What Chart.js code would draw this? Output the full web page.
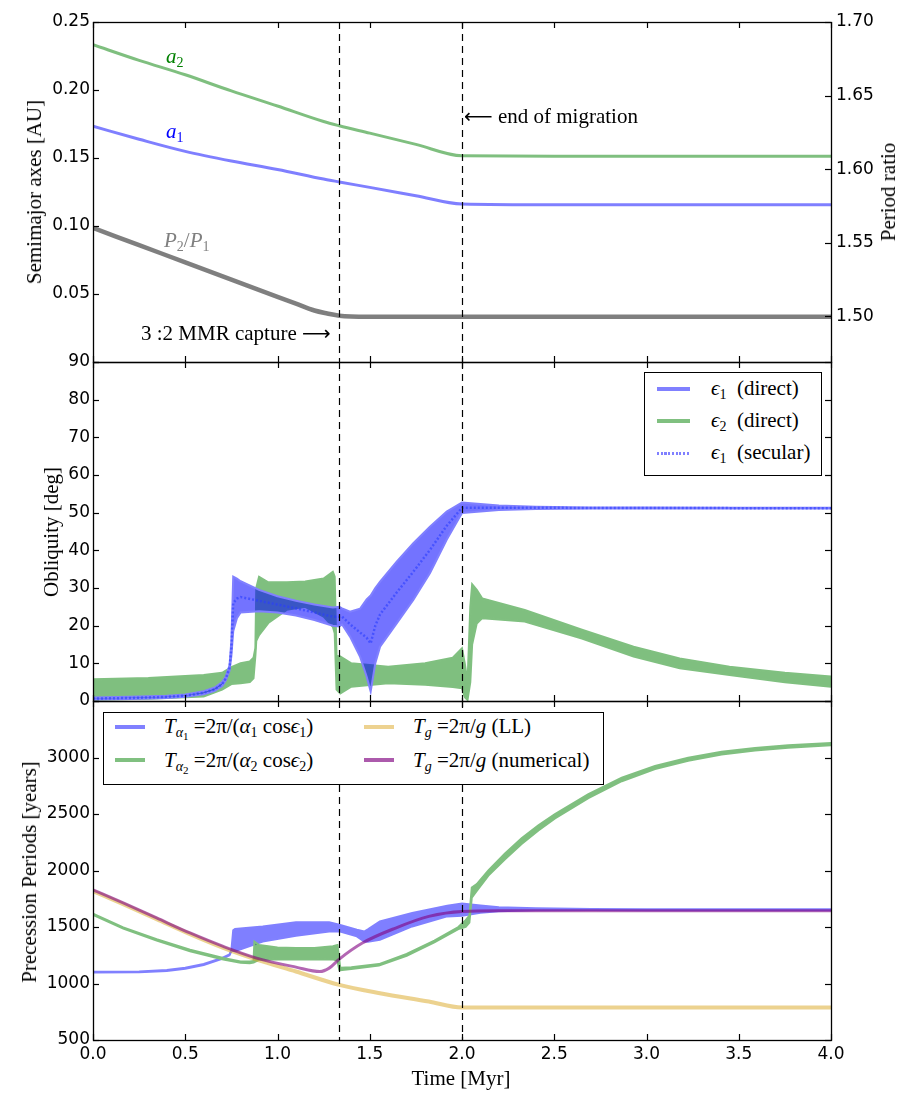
<!DOCTYPE html>
<html><head><meta charset="utf-8">
<script src="https://cdn.jsdelivr.net/npm/chart.js@4.4.1/dist/chart.umd.min.js"></script>
<style>
body{margin:0;background:#fff;overflow:hidden;}
#wrap{position:relative;width:920px;height:1104px;overflow:hidden;background:#fff;}
canvas{position:absolute;left:0;top:0;}
.t{position:absolute;font-family:'Liberation Serif','DejaVu Serif',serif;font-size:21px;line-height:24px;white-space:nowrap;color:#000;}
.rot{transform:translate(-50%,-50%) rotate(-90deg);}
.lg{position:absolute;border:1.3px solid #000;background:#fff;box-sizing:border-box;}
.ln{position:absolute;height:4px;}
sub{font-size:14px;vertical-align:-4px;line-height:0;}
sub sub{font-size:11px;vertical-align:-3px;}
.ar{font-family:'DejaVu Sans',sans-serif;font-size:20px;}
</style></head>
<body><div id="wrap">
<canvas id="c1" width="920" height="1104"></canvas>
<canvas id="c2" width="920" height="1104"></canvas>
<canvas id="c3" width="920" height="1104"></canvas>

<div class="t rot" style="left:34px;top:192px;">Semimajor axes [AU]</div>
<div class="t rot" style="left:888px;top:192px;">Period ratio</div>
<div class="t rot" style="left:51px;top:532px;">Obliquity [deg]</div>
<div class="t rot" style="left:29px;top:872px;">Precession Periods [years]</div>
<div class="t" style="left:461px;top:1066px;transform:translateX(-50%);">Time [Myr]</div>

<div class="t" style="left:166px;top:44px;color:#008000;"><i>a</i><sub>2</sub></div>
<div class="t" style="left:166px;top:119px;color:#0000ff;"><i>a</i><sub>1</sub></div>
<div class="t" style="left:164px;top:228px;color:#808080;"><i>P</i><sub>2</sub>/<i>P</i><sub>1</sub></div>
<div class="t" style="left:141px;top:321px;">3 :2 MMR capture <span class="ar">⟶</span></div>
<div class="t" style="left:464px;top:104px;"><span class="ar">⟵</span> end of migration</div>

<div class="lg" style="left:644px;top:372px;width:178px;height:104px;"></div>
<div class="ln" style="left:657px;top:387px;width:33px;background:#8080ff;"></div>
<div class="ln" style="left:657px;top:419px;width:33px;background:#80c080;"></div>
<div class="ln" style="left:657px;top:452px;width:33px;height:3px;background:repeating-linear-gradient(90deg,#8080ff 0 2.2px,transparent 2.2px 3.7px);"></div>
<div class="t" style="left:711px;top:376px;"><i>ϵ</i><sub>1</sub> &nbsp;(direct)</div>
<div class="t" style="left:711px;top:408px;"><i>ϵ</i><sub>2</sub> &nbsp;(direct)</div>
<div class="t" style="left:711px;top:440px;"><i>ϵ</i><sub>1</sub> &nbsp;(secular)</div>

<div class="lg" style="left:103px;top:712px;width:501px;height:73px;"></div>
<div class="ln" style="left:115px;top:725px;width:30px;background:#8080ff;"></div>
<div class="ln" style="left:115px;top:758px;width:30px;background:#80c080;"></div>
<div class="ln" style="left:364px;top:725px;width:30px;background:#edd290;"></div>
<div class="ln" style="left:364px;top:758px;width:30px;background:#ac5aac;"></div>
<div class="t" style="left:164px;top:714px;"><i>T</i><sub><i>α</i><sub>1</sub></sub> =2π/(<i>α</i><sub>1</sub> cos<i>ϵ</i><sub>1</sub>)</div>
<div class="t" style="left:164px;top:748px;"><i>T</i><sub><i>α</i><sub>2</sub></sub> =2π/(<i>α</i><sub>2</sub> cos<i>ϵ</i><sub>2</sub>)</div>
<div class="t" style="left:413px;top:714px;"><i>T<sub>g</sub></i> =2π/<i>g</i> (LL)</div>
<div class="t" style="left:413px;top:748px;"><i>T<sub>g</sub></i> =2π/<i>g</i> (numerical)</div>
</div>
<script>
// ---------- DATA ----------
const xTicks = [0, 0.5, 1.0, 1.5, 2.0, 2.5, 3.0, 3.5, 4.0];
const markerTimes = [1.335, 2.0];

// top panel
const axesTicks = [0, 0.05, 0.10, 0.15, 0.20, 0.25];
const ratioTicks = [1.50, 1.55, 1.60, 1.65, 1.70];
const timeTop = [0, 0.25, 0.5, 0.75, 1.0, 1.25, 1.335, 1.5, 1.75, 2.0, 2.5, 3.0, 3.5, 4.0];
const a1Vals = [0.1733, 0.1638, 0.1549, 0.1478, 0.1416, 0.1345, 0.1324, 0.1284, 0.1223, 0.1162, 0.1156, 0.1156, 0.1156, 0.1156];
const a2Vals = [0.2333, 0.2218, 0.2112, 0.1993, 0.1882, 0.1768, 0.1737, 0.1683, 0.1600, 0.1516, 0.1513, 0.1513, 0.1513, 0.1513];
const timeRatio = [0, 0.25, 0.5, 0.75, 1.0, 1.1, 1.2, 1.27, 1.335, 1.5, 2.0, 3.0, 4.0];
const ratioVals = [1.5601, 1.5484, 1.5367, 1.5250, 1.5133, 1.5087, 1.5040, 1.5020, 1.5005, 1.4998, 1.4997, 1.4997, 1.4997];

// middle panel
const oblTicks = [0, 10, 20, 30, 40, 50, 60, 70, 80, 90];
const timeEps1 = [0, 0.2, 0.4, 0.5, 0.6, 0.66, 0.70, 0.72, 0.74, 0.75, 0.76, 0.78, 0.80, 0.9, 1.0, 1.1, 1.2, 1.3, 1.335, 1.35, 1.393, 1.447, 1.483, 1.505, 1.53, 1.556, 1.646, 1.736, 1.826, 1.917, 2.0, 2.1, 2.2, 2.4, 2.7, 3.0, 3.5, 4.0];
const eps1Hi = [0.9, 1.1, 1.4, 1.7, 2.6, 3.6, 5.0, 6.5, 9.5, 16, 33, 32.5, 31.8, 29.5, 27.8, 26.6, 25.6, 24.8, 25.0, 24.6, 23.7, 24.5, 27, 28, 30, 31.7, 37, 41.9, 46.3, 50.3, 52.7, 52.3, 51.9, 51.6, 51.4, 51.4, 51.3, 51.3];
const eps1Lo = [0.4, 0.5, 0.8, 1.1, 1.8, 2.7, 4.0, 5.5, 8.0, 12, 18.5, 22, 23.5, 23.8, 23.5, 22.7, 21.5, 20.0, 19.8, 20.3, 17.1, 11.8, 6.5, 2.5, 10, 14.4, 20.6, 26.8, 33.9, 42.8, 49.9, 50.3, 50.7, 51.0, 51.1, 51.1, 51.1, 51.1];
const eps1Sec = [0.65, 0.8, 1.1, 1.4, 2.2, 3.1, 4.5, 6.0, 8.8, 14, 26, 27.2, 27.6, 26.6, 25.6, 24.6, 23.5, 22.4, 22.4, 22.4, 20.4, 18.2, 16.8, 15.3, 20, 23, 28.8, 34.3, 40.1, 46.5, 51.3, 51.3, 51.3, 51.3, 51.25, 51.25, 51.2, 51.2];
const timeEps2 = [0, 0.3, 0.6, 0.7, 0.75, 0.8, 0.85, 0.87, 0.88, 0.885, 0.9, 0.95, 1.05, 1.15, 1.25, 1.3, 1.31, 1.32, 1.34, 1.4, 1.6, 1.8, 1.95, 2.0, 2.015, 2.03, 2.045, 2.055, 2.08, 2.11, 2.34, 2.65, 2.93, 3.18, 3.45, 3.75, 4.0];
const eps2Hi = [5.8, 6.1, 6.9, 7.5, 9, 10, 10.5, 11.5, 14, 30, 33, 31.5, 31.5, 31.7, 32.5, 34.3, 33, 12, 11.8, 10, 9.1, 10, 11.5, 14, 10, 5, 25, 31, 29.5, 27.2, 24.2, 18.9, 14.4, 11.3, 9.1, 7.5, 6.5];
const eps2Lo = [0.3, 0.6, 1.2, 3.0, 4.5, 4.7, 5.0, 6.0, 12, 16, 17.5, 20.7, 24.2, 25, 22.4, 19.7, 18, 3, 2.0, 3.8, 4.7, 4.3, 3.7, 3.4, 1, 0.3, 5, 15, 20.6, 22, 21.1, 16.6, 11.8, 8.7, 6.9, 5, 3.8];

// bottom panel
const precTicks = [500, 1000, 1500, 2000, 2500, 3000, 3500];
const timeTa1 = [0, 0.25, 0.4, 0.5, 0.6, 0.7, 0.74, 0.75, 0.76, 0.77, 0.92, 1.1, 1.28, 1.335, 1.43, 1.47, 1.49, 1.555, 1.73, 1.92, 2.0, 2.1, 2.2, 2.4, 2.7, 3.0, 4.0];
const ta1Hi = [1105, 1107, 1119, 1139, 1172, 1226, 1258, 1294, 1470, 1482, 1505, 1541, 1541, 1520, 1476, 1460, 1480, 1550, 1624, 1689, 1707, 1690, 1675, 1665, 1660, 1658, 1658];
const ta1Lo = [1097, 1099, 1111, 1131, 1164, 1218, 1250, 1286, 1290, 1285, 1372, 1423, 1461, 1461, 1417, 1372, 1370, 1387, 1505, 1594, 1600, 1625, 1640, 1648, 1650, 1649, 1649];
const timeTa2 = [0, 0.164, 0.345, 0.526, 0.706, 0.8, 0.85, 0.87, 0.875, 0.9, 1.0, 1.1, 1.2, 1.3, 1.325, 1.335, 1.34, 1.4, 1.55, 1.7, 1.85, 1.98, 2.0, 2.02, 2.04, 2.053, 2.08, 2.143, 2.233, 2.323, 2.414, 2.504, 2.685, 2.866, 3.046, 3.226, 3.407, 3.588, 3.768, 4.0];
const ta2Hi = [1618, 1497, 1393, 1298, 1226, 1195, 1195, 1200, 1370, 1340, 1318, 1315, 1315, 1330, 1340, 1210, 1140, 1143, 1172, 1262, 1380, 1500, 1530, 1560, 1600, 1850, 1880, 2000, 2150, 2285, 2400, 2500, 2675, 2822, 2925, 2998, 3050, 3085, 3108, 3128];
const ta2Lo = [1606, 1485, 1381, 1286, 1212, 1183, 1180, 1185, 1190, 1210, 1212, 1212, 1212, 1215, 1200, 1120, 1118, 1128, 1158, 1246, 1364, 1482, 1490, 1500, 1540, 1760, 1820, 1955, 2100, 2235, 2355, 2460, 2640, 2790, 2897, 2972, 3026, 3061, 3086, 3108];
const timeTgLL = [0, 0.164, 0.345, 0.526, 0.706, 0.887, 1.1, 1.335, 1.555, 1.82, 2.0, 4.0];
const tgLL = [1818, 1703, 1570, 1437, 1316, 1212, 1106, 988, 914, 840, 787, 787];
const timeTgNum = [0, 0.164, 0.345, 0.526, 0.706, 0.887, 1.1, 1.23, 1.28, 1.335, 1.46, 1.64, 1.82, 2.0, 2.2, 4.0];
const tgNum = [1828, 1713, 1580, 1447, 1328, 1225, 1145, 1106, 1136, 1216, 1358, 1491, 1594, 1638, 1643, 1643];

// ---------- STYLE ----------
const BLUE_L = '#8080ff', BLUE_F = 'rgba(0,0,255,0.5)';
const GREEN_L = '#80c080', GREEN_F = 'rgba(0,128,0,0.5)';
const TICK_FONT = {family: "'DejaVu Sans', sans-serif", size: 17};

const pts = (xs, ys) => xs.map((x, i) => ({x: x, y: ys[i]}));
const lineDs = (xs, ys, color, w, order, extra) => Object.assign({
  data: pts(xs, ys), borderColor: color, borderWidth: w, pointRadius: 0,
  fill: false, tension: 0, order: order
}, extra || {});
const bandDs = (xs, lo, hi, lineC, fillC, w, order) => [
  {data: pts(xs, lo), borderColor: lineC, borderWidth: w, pointRadius: 0, fill: false, tension: 0, order: order},
  {data: pts(xs, hi), borderColor: lineC, borderWidth: w, pointRadius: 0, fill: '-1', backgroundColor: fillC, tension: 0, order: order}
];
const setTicks = arr => s => { s.ticks = arr.map(v => ({value: v})); };

const deco = {
  id: 'deco',
  afterDatasetsDraw(chart, args, o) {
    const {ctx, chartArea: a, scales} = chart;
    const L = 6;
    ctx.save();
    ctx.strokeStyle = '#000';
    ctx.lineWidth = 1.2;
    ctx.setLineDash([7, 5]);
    markerTimes.forEach(v => {
      const px = Math.round(scales.x.getPixelForValue(v)) + 0.5;
      ctx.beginPath(); ctx.moveTo(px, a.top); ctx.lineTo(px, a.bottom); ctx.stroke();
    });
    ctx.setLineDash([]);
    const seg = (x1, y1, x2, y2) => { ctx.beginPath(); ctx.moveTo(x1, y1); ctx.lineTo(x2, y2); ctx.stroke(); };
    scales.x.ticks.forEach(t => {
      const px = Math.round(scales.x.getPixelForValue(t.value)) + 0.5;
      seg(px, a.bottom, px, a.bottom - L);
      seg(px, a.top, px, a.top + L);
    });
    scales.y.ticks.forEach(t => {
      const py = Math.round(scales.y.getPixelForValue(t.value)) + 0.5;
      seg(a.left, py, a.left + L, py);
      if (o.mirror) seg(a.right, py, a.right - L, py);
    });
    if (scales.y2) scales.y2.ticks.forEach(t => {
      const py = Math.round(scales.y2.getPixelForValue(t.value)) + 0.5;
      seg(a.right, py, a.right - L, py);
    });
    ctx.lineWidth = 1.3;
    ctx.strokeRect(Math.round(a.left) + 0.5, Math.round(a.top) + 0.5, Math.round(a.width), Math.round(a.height));
    ctx.restore();
  }
};

const xScale = (show) => ({
  type: 'linear', min: 0, max: 4,
  afterBuildTicks: setTicks(xTicks),
  ticks: {display: show, font: TICK_FONT, color: '#000', padding: 4, maxRotation: 0, autoSkip: false,
          callback: v => Number(v).toFixed(1)},
  grid: {display: false, drawTicks: false}, border: {display: false},
  afterFit: s => { s.height = show ? 40 : 0; }
});
const yScale = (pos, min, max, tickArr, fmt, width, pad) => ({
  type: 'linear', position: pos, min: min, max: max,
  afterBuildTicks: setTicks(tickArr),
  ticks: {font: TICK_FONT, color: '#000', padding: pad, callback: fmt},
  grid: {display: false, drawTicks: false}, border: {display: false},
  afterFit: s => { s.width = width; }
});
const baseOpts = (padding, scales, mirror) => ({
  responsive: false, animation: false, events: [],
  layout: {padding: padding},
  plugins: {legend: {display: false}, tooltip: {enabled: false}, deco: {mirror: mirror}},
  scales: scales
});

// ---------- TOP ----------
new Chart(document.getElementById('c1'), {
  type: 'line',
  data: {datasets: [
    lineDs(timeTop, a2Vals, 'rgba(0,128,0,0.5)', 3, 1, {cubicInterpolationMode: 'monotone', yAxisID: 'y'}),
    lineDs(timeTop, a1Vals, 'rgba(0,0,255,0.5)', 3, 2, {cubicInterpolationMode: 'monotone', yAxisID: 'y'}),
    lineDs(timeRatio, ratioVals, 'rgba(0,0,0,0.5)', 4.5, 3, {cubicInterpolationMode: 'monotone', yAxisID: 'y2'})
  ]},
  options: baseOpts({top: 22, left: 0, right: 0, bottom: 1104 - 362}, {
    x: xScale(false),
    y: yScale('left', 0, 0.25, axesTicks, v => v === 0 ? '' : Number(v).toFixed(2), 93, 3),
    y2: yScale('right', 1.469, 1.70, ratioTicks, v => Number(v).toFixed(2), 89, 5)
  }, false),
  plugins: [deco]
});

// ---------- MIDDLE ----------
new Chart(document.getElementById('c2'), {
  type: 'line',
  data: {datasets: [
    lineDs(timeEps1, eps1Sec, 'rgba(40,60,255,0.6)', 2.5, 1, {borderDash: [2, 2]}),
    ...bandDs(timeEps1, eps1Lo, eps1Hi, BLUE_L, 'rgba(0,0,255,0.55)', 2, 2),
    ...bandDs(timeEps2, eps2Lo, eps2Hi, GREEN_L, GREEN_F, 2, 3)
  ]},
  options: baseOpts({top: 362, left: 0, right: 89, bottom: 1104 - 701}, {
    x: xScale(false),
    y: yScale('left', 0, 90, oblTicks, v => String(v), 93, 3)
  }, true),
  plugins: [deco]
});

// ---------- BOTTOM ----------
new Chart(document.getElementById('c3'), {
  type: 'line',
  data: {datasets: [
    lineDs(timeTgNum, tgNum, 'rgba(128,0,128,0.6)', 3, 1, {cubicInterpolationMode: 'monotone'}),
    lineDs(timeTgLL, tgLL, 'rgba(218,165,32,0.5)', 4, 2, {cubicInterpolationMode: 'monotone'}),
    ...bandDs(timeTa2, ta2Lo, ta2Hi, GREEN_L, GREEN_F, 2, 3),
    ...bandDs(timeTa1, ta1Lo, ta1Hi, BLUE_L, BLUE_F, 2, 4)
  ]},
  options: baseOpts({top: 701, left: 0, right: 89, bottom: 1104 - 1040 - 40}, {
    x: xScale(true),
    y: yScale('left', 500, 3500, precTicks, v => v === 3500 ? '' : String(v), 93, 3)
  }, true),
  plugins: [deco]
});
</script>
</body></html>
